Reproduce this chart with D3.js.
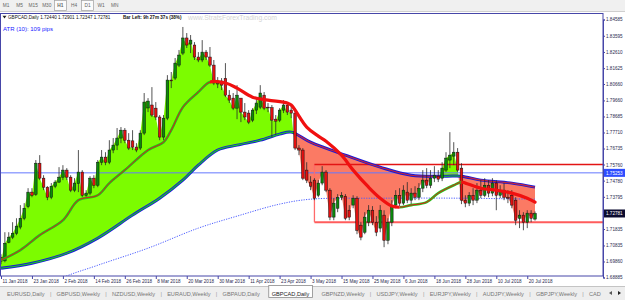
<!DOCTYPE html>
<html>
<head>
<meta charset="utf-8">
<script src="https://cdn.jsdelivr.net/npm/d3@7.9.0/dist/d3.min.js"></script>
<style>
  body { margin: 0; background: #fff; overflow: hidden; }
  svg { display: block; font-family: "Liberation Sans", Arial, sans-serif; }
</style>
</head>
<body>
<svg id="chart" width="625" height="300"></svg>
<script>
// GBPCAD daily candles, 11 Jan 2018 .. 25 Jul 2018 (one entry per trading day)
const opens = [1.7012,1.6990,1.7103,1.7134,1.7158,1.7195,1.7249,1.7320,1.7408,1.7395,
  1.7584,1.7493,1.7438,1.7377,1.7444,1.7469,1.7499,1.7542,1.7499,1.7420,
  1.7460,1.7530,1.7389,1.7402,1.7493,1.7450,1.7590,1.7621,1.7590,1.7664,
  1.7694,1.7737,1.7785,1.7724,1.7720,1.7682,1.7676,1.7767,1.7920,1.7938,
  1.7919,1.7865,1.7743,1.7858,1.8090,1.8102,1.8181,1.8254,1.8346,1.8309,
  1.8303,1.8230,1.8212,1.8260,1.8230,1.8181,1.8066,1.8084,1.8100,1.7998,
  1.7980,1.7919,1.7980,1.7895,1.7889,1.7846,1.7907,1.7925,1.7998,1.7925,
  1.7922,1.7852,1.7846,1.7907,1.7938,1.7907,1.7889,1.7676,1.7664,1.7542,
  1.7469,1.7481,1.7389,1.7463,1.7530,1.7420,1.7256,1.7310,1.7377,1.7383,
  1.7298,1.7329,1.7371,1.7207,1.7164,1.7225,1.7298,1.7225,1.7189,1.7268,
  1.7115,1.7225,1.7329,1.7389,1.7341,1.7408,1.7359,1.7402,1.7377,1.7432,
  1.7481,1.7450,1.7493,1.7505,1.7493,1.7542,1.7603,1.7627,1.7651,1.7554,
  1.7359,1.7341,1.7389,1.7359,1.7420,1.7389,1.7450,1.7402,1.7463,1.7389,
  1.7420,1.7377,1.7389,1.7359,1.7249,1.7268,1.7225,1.7280,1.72440];
const highs = [1.7030,1.7164,1.7164,1.7225,1.7249,1.7329,1.7341,1.7432,1.7432,1.7603,
  1.7633,1.7511,1.7444,1.7463,1.7481,1.7560,1.7572,1.7554,1.7511,1.7493,
  1.7664,1.7542,1.7420,1.7505,1.7511,1.7603,1.7664,1.7651,1.7724,1.7737,
  1.7798,1.7804,1.7798,1.7767,1.7785,1.7706,1.7785,1.8011,1.7980,1.8047,
  1.7956,1.7877,1.7877,1.8120,1.8139,1.8224,1.8273,1.8413,1.8376,1.8364,
  1.8321,1.8260,1.8333,1.8273,1.8291,1.8212,1.8108,1.8102,1.8193,1.8029,
  1.8011,1.8059,1.7980,1.7950,1.7907,1.7919,1.7980,1.8059,1.8017,1.7950,
  1.7938,1.7877,1.7919,1.7968,1.7950,1.7938,1.7919,1.7694,1.7676,1.7590,
  1.7505,1.7493,1.7481,1.7566,1.7542,1.7432,1.7371,1.7396,1.7408,1.7396,
  1.7329,1.7389,1.7383,1.7225,1.7286,1.7329,1.7323,1.7262,1.7329,1.7298,
  1.7249,1.7359,1.7420,1.7432,1.7450,1.7469,1.7432,1.7444,1.7463,1.7542,
  1.7554,1.7542,1.7566,1.7542,1.7590,1.7651,1.7773,1.7712,1.7676,1.7584,
  1.7389,1.7408,1.7432,1.7463,1.7481,1.7493,1.7481,1.7493,1.7481,1.7450,
  1.7463,1.7420,1.7420,1.7377,1.7298,1.7286,1.7298,1.7298,1.72901];
const lows = [1.6969,1.6981,1.7097,1.7122,1.7146,1.7182,1.7237,1.7310,1.7377,1.7385,
  1.7481,1.7420,1.7359,1.7365,1.7432,1.7463,1.7481,1.7481,1.7408,1.7408,
  1.7408,1.7377,1.7371,1.7389,1.7432,1.7438,1.7572,1.7572,1.7578,1.7645,
  1.7664,1.7706,1.7706,1.7664,1.7664,1.7651,1.7664,1.7755,1.7895,1.7865,
  1.7846,1.7724,1.7724,1.7846,1.8041,1.8090,1.8169,1.8242,1.8285,1.8254,
  1.8212,1.8199,1.8199,1.8212,1.8169,1.8059,1.8041,1.8029,1.7986,1.7950,
  1.7907,1.7852,1.7834,1.7846,1.7822,1.7834,1.7883,1.7913,1.7907,1.7895,
  1.7743,1.7755,1.7834,1.7889,1.7877,1.7858,1.7664,1.7633,1.7481,1.7463,
  1.7420,1.7359,1.7377,1.7450,1.7408,1.7237,1.7237,1.7286,1.7359,1.7237,
  1.7237,1.7310,1.7152,1.7115,1.7152,1.7201,1.7207,1.7140,1.7164,1.7073,
  1.7091,1.7201,1.7310,1.7323,1.7329,1.7341,1.7335,1.7359,1.7359,1.7408,
  1.7432,1.7432,1.7469,1.7469,1.7475,1.7530,1.7554,1.7572,1.7530,1.7335,
  1.7316,1.7323,1.7329,1.7341,1.7371,1.7377,1.7377,1.7383,1.7298,1.7371,
  1.7359,1.7341,1.7310,1.7207,1.7189,1.7176,1.7189,1.7225,1.72347];
const closes = [1.6988,1.7097,1.7134,1.7158,1.7201,1.7249,1.7310,1.7408,1.7389,1.7584,
  1.7493,1.7438,1.7377,1.7444,1.7469,1.7499,1.7542,1.7499,1.7420,1.7463,
  1.7530,1.7389,1.7402,1.7493,1.7450,1.7590,1.7621,1.7590,1.7664,1.7694,
  1.7737,1.7785,1.7724,1.7676,1.7682,1.7664,1.7767,1.7956,1.7962,1.7877,
  1.7865,1.7743,1.7858,1.8090,1.8087,1.8193,1.8242,1.8346,1.8303,1.8333,
  1.8230,1.8212,1.8260,1.8230,1.8181,1.8072,1.8084,1.8059,1.7998,1.7968,
  1.7919,1.7998,1.7895,1.7865,1.7834,1.7907,1.7950,1.8011,1.7919,1.7922,
  1.7846,1.7840,1.7907,1.7938,1.7895,1.7889,1.7676,1.7664,1.7493,1.7481,
  1.7444,1.7371,1.7463,1.7530,1.7420,1.7256,1.7341,1.7377,1.7389,1.7249,
  1.7256,1.7371,1.7176,1.7134,1.7256,1.7298,1.7225,1.7164,1.7298,1.7115,
  1.7225,1.7329,1.7389,1.7341,1.7420,1.7359,1.7402,1.7377,1.7432,1.7481,
  1.7450,1.7493,1.7511,1.7487,1.7554,1.7615,1.7633,1.7651,1.7542,1.7359,
  1.7341,1.7389,1.7359,1.7420,1.7389,1.7450,1.7402,1.7463,1.7389,1.7420,
  1.7377,1.7371,1.7329,1.7237,1.7268,1.7225,1.7280,1.7249,1.72781];

// moving averages (bar index -> price)
const fastIdx = [0,5,10,16,20,25,28,32,38,42,44,47,51,54,58,61,65,69,74,75,79,82,84,88,91,95,98,101,103,106,110,113,117,119,120,124,128,132,136,138];
const fastVal = [1.6994,1.7055,1.7146,1.7237,1.7359,1.7389,1.7463,1.7542,1.7664,1.7712,1.7785,1.7925,1.8017,1.8078,1.8072,1.8041,1.7986,1.7968,1.7950,1.7938,1.7804,1.7749,1.7718,1.7633,1.7542,1.7438,1.7371,1.7323,1.7316,1.7329,1.7347,1.7402,1.7450,1.7469,1.7463,1.7432,1.7420,1.7402,1.7371,1.7347];
const slowIdx = [0,8,17,25,34,41,47,51,56,61,67,72,75,80,89,98,106,115,119,124,132,138];
const slowVal = [1.6945,1.6975,1.7036,1.7128,1.7268,1.7371,1.7481,1.7572,1.7664,1.7694,1.7724,1.7761,1.7773,1.7712,1.7633,1.7560,1.7511,1.7505,1.7505,1.7481,1.7463,1.7438];
const longIdx = [5,15,25,38,51,61,72,80,98,119,138];
const longVal = [1.6740,1.6878,1.6963,1.7067,1.7189,1.7262,1.7335,1.7365,1.7371,1.7371,1.7365];

// where the fast average falls (thick red) and where the slow one is bearish
const fastDown = [[54,103],[119,138]];
const fastUp = [[0,54],[103,119]];
const slowBull = [[0,76],[114,119]];
const slowBear = [[76,114],[119,138]];

// objects drawn on the chart
const blueLevel = 1.75253;
const boxTop = 1.75760, boxBottom = 1.72250, boxStart = 81;
const bid = 1.72781;

const yTicks = [1.84585,1.83595,1.82610,1.81625,1.80660,1.79660,1.78685,1.77710,1.76735,1.75760,1.74780,1.73795,1.72810,1.71835,1.70835,1.69860,1.68885];
const dateLabels = ['11 Jan 2018','23 Jan 2018','2 Feb 2018','14 Feb 2018','26 Feb 2018','8 Mar 2018','20 Mar 2018','30 Mar 2018','11 Apr 2018','23 Apr 2018','3 May 2018','15 May 2018','25 May 2018','6 Jun 2018','18 Jun 2018','28 Jun 2018','10 Jul 2018','20 Jul 2018'];
const dateStep = 8;

const timeframes = ['M1','M5','M15','M30','H1','H4','D1','W1','MN'];
const boxedFrames = ['H1','D1'];
const tabs = ['EURUSD,Daily','GBPUSD,Weekly','NZDUSD,Weekly','EURAUD,Weekly','GBPAUD,Daily','GBPCAD,Daily','GBPNZD,Weekly','USDJPY,Weekly','EURJPY,Weekly','AUDJPY,Weekly','GBPJPY,Weekly','CAD'];
const activeTab = 'GBPCAD,Daily';

const W = 625, H = 300;
const plotRight = 603, plotTop = 14, plotBottom = 276;
const last = closes.length - 1;

const svg = d3.select('#chart');
const x = d3.scaleLinear().domain([0, last]).range([1, 535]);
const y = d3.scaleLinear().domain([1.68885, 1.84585]).range([277.5, 19.5]);

const defs = svg.append('defs');
defs.append('clipPath').attr('id', 'plot')
  .append('rect').attr('x', 0).attr('y', plotTop).attr('width', plotRight).attr('height', plotBottom - plotTop);

function rangeClip(id, ranges) {
  const cp = defs.append('clipPath').attr('id', id);
  ranges.forEach(([a, b]) => {
    const x0 = a === 0 ? 0 : x(a);
    const x1 = b === last ? W : x(b);
    cp.append('rect').attr('x', x0).attr('y', 0).attr('width', x1 - x0).attr('height', H);
  });
}
rangeClip('fastDown', fastDown);
rangeClip('fastUp', fastUp);
rangeClip('slowBull', slowBull);
rangeClip('slowBear', slowBear);

const knotLine = d3.line()
  .x(d => x(d[0]))
  .y(d => y(d[1]))
  .curve(d3.curveCatmullRom.alpha(0.5));

const slowPts = slowIdx.map((d, i) => [d, slowVal[i]]);
const fastPts = fastIdx.map((d, i) => [d, fastVal[i]]);
const longPts = longIdx.map((d, i) => [d, longVal[i]]);

const slowPath = knotLine(slowPts);
defs.append('clipPath').attr('id', 'above')
  .append('path').attr('d', slowPath + `L${x(last)},0L${x(0)},0Z`);
defs.append('clipPath').attr('id', 'below')
  .append('path').attr('d', slowPath + `L${x(last)},${H}L${x(0)},${H}Z`);

// toolbar
const tb = svg.append('g');
tb.append('rect').attr('width', W).attr('height', 11).attr('fill', '#f0f0f0');
tb.append('line').attr('x1', 0).attr('x2', W).attr('y1', 11.5).attr('y2', 11.5).attr('stroke', '#cfcfcf');
timeframes.forEach((t, i) => {
  const cx = 6 + i * 13.6;
  if (boxedFrames.includes(t)) {
    tb.append('rect').attr('x', cx - 6).attr('y', 0.5).attr('width', 12).attr('height', 10)
      .attr('fill', '#fbfbfb').attr('stroke', '#a0a0a0').attr('stroke-width', 0.7);
  }
  tb.append('text').attr('x', cx).attr('y', 7.3).attr('text-anchor', 'middle')
    .attr('font-size', 4.8).attr('fill', '#666')
    .attr('font-weight', t === 'H1' ? 'bold' : 'normal').text(t);
});

// plot
const plot = svg.append('g').attr('clip-path', 'url(#plot)');

const closeLine = d3.line().x((d, i) => x(i)).y(d => y(d))(closes);
const backSlow = knotLine(slowPts.slice().reverse()).replace(/^M/, 'L');
const fillPath = closeLine + backSlow + 'Z';

plot.append('g').attr('clip-path', 'url(#above)')
  .append('path').attr('d', fillPath).attr('fill', '#7cfc00');
plot.append('g').attr('clip-path', 'url(#below)')
  .append('path').attr('d', fillPath).attr('fill', '#fb7a64');

// horizontal objects
plot.append('line').attr('x1', 0).attr('x2', plotRight)
  .attr('y1', y(blueLevel)).attr('y2', y(blueLevel))
  .attr('stroke', '#6477ff').attr('stroke-width', 1);
plot.append('line').attr('x1', x(boxStart)).attr('x2', plotRight)
  .attr('y1', y(boxBottom)).attr('y2', y(boxBottom))
  .attr('stroke', '#ff5c5c').attr('stroke-width', 2);
plot.append('line').attr('x1', x(boxStart)).attr('x2', x(boxStart))
  .attr('y1', y(boxTop)).attr('y2', y(boxBottom))
  .attr('stroke', '#ff6a6a').attr('stroke-width', 1.3);
plot.append('line').attr('x1', x(boxStart)).attr('x2', plotRight)
  .attr('y1', y(boxTop)).attr('y2', y(boxTop))
  .attr('stroke', '#e31414').attr('stroke-width', 1.3);

// long average (dotted)
plot.append('path').attr('d', knotLine(longPts)).attr('fill', 'none')
  .attr('stroke', '#4a5cff').attr('stroke-width', 1).attr('stroke-dasharray', '1.2,1.3');

// slow average
plot.append('path').attr('d', slowPath).attr('fill', 'none')
  .attr('stroke', '#1818d8').attr('stroke-width', 2.9);
plot.append('g').attr('clip-path', 'url(#slowBull)')
  .append('path').attr('d', slowPath).attr('fill', 'none')
  .attr('stroke', '#18d018').attr('stroke-width', 1.1);
plot.append('g').attr('clip-path', 'url(#slowBear)')
  .append('path').attr('d', slowPath).attr('fill', 'none')
  .attr('stroke', '#c82838').attr('stroke-width', 1.1);

// candles
const candles = plot.append('g');
closes.forEach((c, i) => {
  const o = opens[i];
  const up = c >= o;
  candles.append('line').attr('x1', x(i)).attr('x2', x(i))
    .attr('y1', y(highs[i])).attr('y2', y(lows[i]))
    .attr('stroke', '#2a2a2a').attr('stroke-width', 0.8);
  const top = y(Math.max(o, c));
  const h = Math.max(0.8, Math.abs(y(o) - y(c)));
  candles.append('rect').attr('x', x(i) - 1.3).attr('y', top)
    .attr('width', 2.6).attr('height', h)
    .attr('fill', up ? '#0b8a0b' : '#e41010')
    .attr('stroke', '#111').attr('stroke-width', 0.5);
});

// fast average: thin green/red while rising, thick red while falling
const fastPath = knotLine(fastPts);
const upG = plot.append('g').attr('clip-path', 'url(#fastUp)');
upG.append('path').attr('d', fastPath).attr('fill', 'none')
  .attr('stroke', '#22c81e').attr('stroke-width', 2.6);
upG.append('path').attr('d', fastPath).attr('fill', 'none')
  .attr('stroke', '#e01818').attr('stroke-width', 1);
plot.append('g').attr('clip-path', 'url(#fastDown)')
  .append('path').attr('d', fastPath).attr('fill', 'none')
  .attr('stroke', '#f01010').attr('stroke-width', 3.2).attr('stroke-linecap', 'round');

// frame
svg.append('rect').attr('x', 0.5).attr('y', plotTop - 0.5)
  .attr('width', plotRight - 0.5).attr('height', plotBottom - plotTop + 0.5)
  .attr('fill', 'none').attr('stroke', '#4646a8').attr('stroke-width', 1);

// price axis
const yAxis = svg.append('g').attr('transform', `translate(${plotRight},0)`)
  .call(d3.axisRight(y).tickValues(yTicks).tickSize(2).tickFormat(d3.format('.5f')));
yAxis.select('.domain').attr('stroke', '#4646a8');
yAxis.selectAll('.tick line').attr('stroke', '#4646a8');
yAxis.selectAll('.tick text').attr('x', 3).attr('font-size', 4.6)
  .attr('font-family', '"Liberation Sans", Arial, sans-serif').attr('fill', '#2a2a50');

function priceTag(price, bg) {
  const g = svg.append('g').attr('transform', `translate(${plotRight + 1},${y(price)})`);
  g.append('rect').attr('x', 0).attr('y', -4).attr('width', 22).attr('height', 8).attr('fill', bg);
  g.append('text').attr('x', 2).attr('y', 1.7).attr('font-size', 4.6).attr('fill', '#fff')
    .text(d3.format('.5f')(price));
}
priceTag(blueLevel, '#2f4dff');
priceTag(bid, '#0c0c30');

// time axis
const xAxis = svg.append('g').attr('transform', `translate(0,${plotBottom})`)
  .call(d3.axisBottom(x)
    .tickValues(dateLabels.map((d, i) => i * dateStep))
    .tickSize(3)
    .tickFormat((d, i) => dateLabels[i]));
xAxis.select('.domain').remove();
xAxis.selectAll('.tick line').attr('stroke', '#4646a8');
xAxis.selectAll('.tick text').attr('text-anchor', 'start').attr('x', 1).attr('y', 4).attr('dy', '0.71em')
  .attr('font-size', 4.6).attr('font-family', '"Liberation Sans", Arial, sans-serif').attr('fill', '#2a2a50');

// header texts
const last4 = [opens[last], highs[last], lows[last], closes[last]].map(d3.format('.5f')).join(' ');
svg.append('path').attr('d', 'M2.5,15.8L6.5,15.8L4.5,18.6Z').attr('fill', '#222');
svg.append('text').attr('x', 8).attr('y', 19.3).attr('font-size', 4.6).attr('fill', '#111')
  .text('GBPCAD,Daily  ' + last4);
svg.append('text').attr('x', 123).attr('y', 19.3).attr('font-size', 4.6).attr('font-weight', 'bold')
  .attr('fill', '#111').text('Bar Left: 9h 27m 37s (38%)');
svg.append('text').attr('x', 188).attr('y', 20).attr('font-size', 6.8).attr('fill', '#d4d4d4')
  .text('www.StratsForexTrading.com');
svg.append('text').attr('x', 3).attr('y', 30.5).attr('font-size', 6).attr('fill', '#2020ff')
  .text('ATR (10): 109 pips');

// symbol tabs
const tg = svg.append('g');
tg.append('rect').attr('x', 0).attr('y', 286).attr('width', W).attr('height', 14).attr('fill', '#eeeeee');
tg.append('line').attr('x1', 0).attr('x2', W).attr('y1', 286.5).attr('y2', 286.5).attr('stroke', '#c4c4c4');
const tabRow = tg.append('g');
let tx = 7;
tabs.forEach((t, i) => {
  const active = t === activeTab;
  const bgRect = tabRow.append('rect');
  const txt = tabRow.append('text').attr('x', tx).attr('y', 295.5).attr('font-size', 5.6)
    .attr('fill', active ? '#222' : '#777').text(t);
  const w = txt.node().getComputedTextLength();
  if (active) {
    bgRect.attr('x', tx - 3).attr('y', 285.5).attr('width', w + 6).attr('height', 12)
      .attr('fill', '#fff').attr('stroke', '#8a8a8a').attr('stroke-width', 0.8);
  } else {
    bgRect.remove();
  }
  const next = tabs[i + 1];
  if (next && !active && next !== activeTab) {
    tabRow.append('text').attr('x', tx + w + 6).attr('y', 295.5).attr('text-anchor', 'middle')
      .attr('font-size', 5.6).attr('fill', '#999').text('|');
  }
  tx += w + 12;
});
tg.append('path').attr('d', 'M609,293L612,291L612,295Z').attr('fill', '#555');
tg.append('path').attr('d', 'M618,291L621,293L618,295Z').attr('fill', '#222');
</script>
</body>
</html>
